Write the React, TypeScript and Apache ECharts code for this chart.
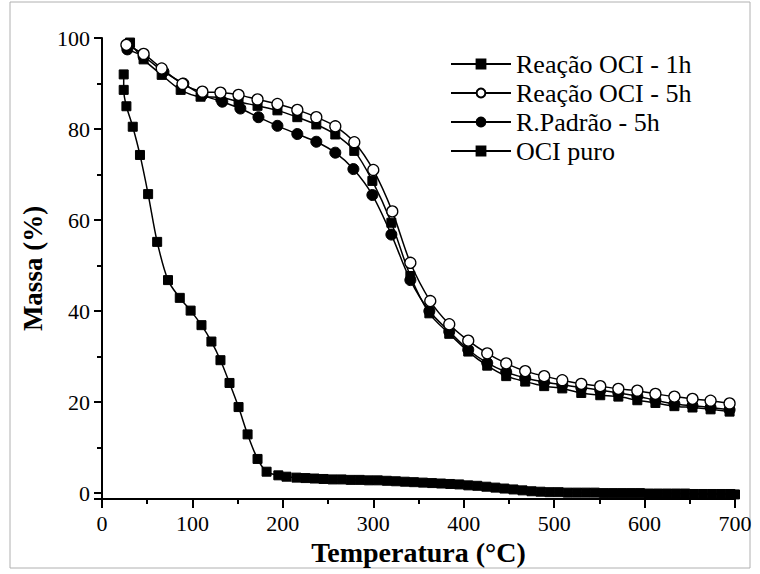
import React, { useEffect, useRef } from "react";
import * as echarts from "echarts";

// ---- data ----
const reac1hTemp = [31, 46, 66, 87, 109, 131, 151, 172, 194, 216, 237, 258, 279, 299, 320, 341, 362, 384, 405, 426, 447, 468, 489, 509, 530, 551, 571, 592, 612, 633, 653, 673, 694];
const reac1hMass = [99.0, 95.3, 91.9, 88.6, 87.1, 87.0, 86.0, 85.1, 84.1, 82.6, 81.0, 78.8, 75.2, 68.6, 59.4, 47.7, 39.5, 35.0, 31.1, 28.0, 25.7, 24.5, 23.5, 23.0, 22.0, 21.5, 21.2, 20.4, 19.8, 19.1, 18.8, 18.4, 17.9];

const reac5hTemp = [27, 46, 66, 89, 111, 131, 151, 172, 194, 216, 237, 258, 279, 300, 321, 341, 363, 384, 405, 426, 447, 468, 489, 509, 530, 551, 571, 592, 612, 633, 653, 673, 694];
const reac5hMass = [98.5, 96.5, 93.3, 89.9, 88.2, 88.0, 87.5, 86.5, 85.5, 84.2, 82.6, 80.6, 77.1, 71.0, 61.9, 50.6, 42.2, 37.1, 33.5, 30.7, 28.5, 26.8, 25.7, 24.8, 24.0, 23.5, 22.9, 22.5, 21.8, 21.2, 20.7, 20.3, 19.7];

const padraoTemp = [28, 46, 68, 90, 111, 133, 153, 173, 194, 216, 237, 258, 278, 299, 320, 341, 362, 384, 405, 426, 447, 468, 489, 509, 530, 551, 571, 592, 612, 633, 653, 673, 694];
const padraoMass = [97.5, 95.9, 92.6, 90.0, 87.5, 86.0, 84.5, 82.6, 80.7, 78.9, 77.2, 74.8, 71.2, 65.5, 56.8, 46.8, 40.0, 35.5, 31.5, 28.6, 26.6, 25.3, 24.4, 23.8, 23.2, 22.6, 22.0, 21.3, 20.4, 19.6, 19.2, 18.8, 18.3];

const ociTemp = [24, 24, 27, 34, 42, 51, 61, 73, 86, 98, 110, 121, 131, 141, 151, 161, 172, 182, 195, 204,
  215, 225, 235, 245, 255, 265, 275, 285, 295, 305, 315, 325, 335, 345, 355, 365, 375, 385, 395, 405,
  415, 425, 435, 445, 455, 465, 475, 485, 495, 505, 515, 525, 535, 545, 555, 565, 575, 585, 595, 605,
  615, 625, 635, 645, 655, 665, 675, 685, 695, 700];
const ociMass = [92.0, 88.6, 85.0, 80.5, 74.3, 65.7, 55.2, 46.8, 42.9, 40.1, 36.9, 33.3, 29.2, 24.2, 18.9, 12.9, 7.5, 4.7, 3.9, 3.6,
  3.4, 3.3, 3.2, 3.1, 3.0, 3.0, 2.9, 2.9, 2.8, 2.8, 2.7, 2.6, 2.5, 2.4, 2.3, 2.2, 2.1, 2.0, 1.9, 1.7,
  1.6, 1.4, 1.2, 1.0, 0.8, 0.6, 0.4, 0.3, 0.2, 0.2, 0.1, 0.1, 0.1, 0.1, 0.0, 0.0, 0.0, 0.0, 0.0, -0.1,
  -0.1, -0.1, -0.1, -0.1, -0.2, -0.2, -0.2, -0.2, -0.2, -0.3];

const seriesNames = ["Reação OCI - 1h", "Reação OCI - 5h", "R.Padrão - 5h", "OCI puro"];
const xTitle = "Temperatura (°C)";
const yTitle = "Massa (%)";

const zip = (a: number[], b: number[]) => a.map((t, i) => [t, b[i]]);

const FONT = "'Liberation Serif', 'Times New Roman', 'DejaVu Serif', serif";

export default function App() {
  const ref = useRef<HTMLDivElement>(null);
  useEffect(() => {
    if (!ref.current) return;
    const chart = echarts.init(ref.current, undefined, { renderer: "svg" });
    const lineStyle = { color: "#000", width: 1.5 };
    const filled = { color: "#000", borderColor: "#000", borderWidth: 1 };
    const open = { color: "#fff", borderColor: "#000", borderWidth: 1.3 };
    chart.setOption({
      animation: false,
      backgroundColor: "#fff",
      textStyle: { fontFamily: FONT, color: "#000" },
      graphic: [
        {
          type: "rect",
          shape: { x: 10, y: 2, width: 740, height: 566 },
          style: { fill: "none", stroke: "#b0b0b0", lineWidth: 1 },
          silent: true,
          z: -10,
        },
      ],
      grid: { left: 102, right: 25, top: 38, bottom: 75, containLabel: false },
      legend: {
        orient: "vertical",
        left: 445,
        top: 46,
        itemWidth: 60,
        itemHeight: 11,
        itemGap: 3,
        data: seriesNames,
        textStyle: { fontFamily: FONT, fontSize: 26, color: "#000", lineHeight: 26 },
      },
      xAxis: {
        type: "value",
        min: 0,
        max: 700,
        interval: 100,
        name: xTitle,
        nameLocation: "middle",
        nameGap: 32,
        nameTextStyle: { fontFamily: FONT, fontSize: 28, fontWeight: "bold", color: "#000" },
        axisLine: { show: true, onZero: false, lineStyle: { color: "#000", width: 2 } },
        axisTick: { show: true, length: 9, lineStyle: { color: "#000", width: 2 } },
        minorTick: { show: true, splitNumber: 2, length: 5, lineStyle: { color: "#000", width: 2 } },
        splitLine: { show: false },
        axisLabel: { fontFamily: FONT, fontSize: 22, color: "#000", margin: 13 },
      },
      yAxis: {
        type: "value",
        min: -1.3,
        max: 100,
        splitNumber: 5,
        name: yTitle,
        nameLocation: "middle",
        nameGap: 45,
        nameTextStyle: { fontFamily: FONT, fontSize: 27, fontWeight: "bold", color: "#000" },
        axisLine: { show: true, onZero: false, lineStyle: { color: "#000", width: 2 } },
        axisTick: { show: true, length: 8, lineStyle: { color: "#000", width: 2 } },
        minorTick: { show: true, splitNumber: 2, length: 5, lineStyle: { color: "#000", width: 2 } },
        splitLine: { show: false },
        axisLabel: {
          fontFamily: FONT,
          fontSize: 22,
          color: "#000",
          margin: 12,
          formatter: (v: number) => (Math.abs(v % 20) < 1e-6 ? String(Math.round(v)) : ""),
        },
      },
      series: [
        {
          name: seriesNames[0],
          type: "line",
          data: zip(reac1hTemp, reac1hMass),
          symbol: "rect",
          symbolSize: 9,
          smooth: 0.3,
          lineStyle,
          itemStyle: filled,
          z: 2,
        },
        {
          name: seriesNames[1],
          type: "line",
          data: zip(reac5hTemp, reac5hMass),
          symbol: "circle",
          symbolSize: 11,
          smooth: 0.3,
          lineStyle,
          itemStyle: open,
          z: 3,
        },
        {
          name: seriesNames[2],
          type: "line",
          data: zip(padraoTemp, padraoMass),
          symbol: "circle",
          symbolSize: 11,
          smooth: 0.3,
          lineStyle,
          itemStyle: filled,
          z: 2,
        },
        {
          name: seriesNames[3],
          type: "line",
          data: zip(ociTemp, ociMass),
          symbol: "rect",
          symbolSize: 9,
          smooth: 0.3,
          lineStyle,
          itemStyle: filled,
          z: 2,
        },
      ],
    });
    return () => chart.dispose();
  }, []);
  return (
    <div
      ref={ref}
      style={{ position: "fixed", left: 0, top: 0, width: 760, height: 574, background: "#fff" }}
    />
  );
}
